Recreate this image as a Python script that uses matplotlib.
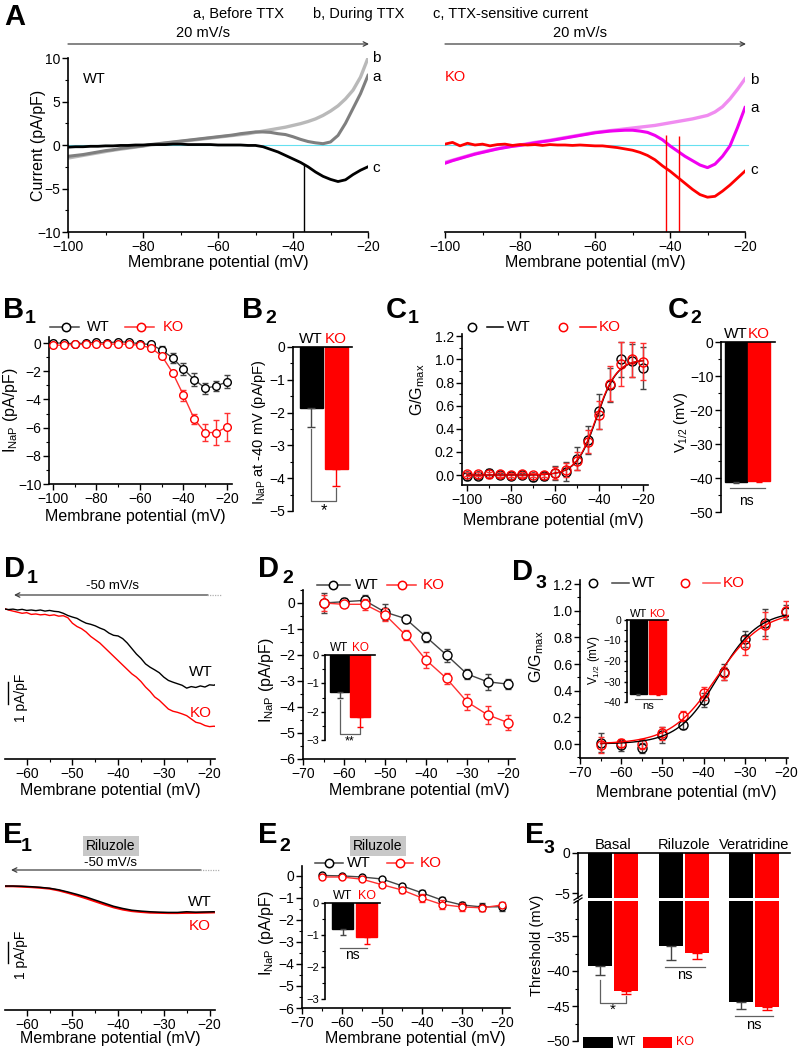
import numpy as np
import matplotlib
matplotlib.use('Agg')
import matplotlib.pyplot as plt
from matplotlib.lines import Line2D
from matplotlib.patches import FancyArrowPatch, Rectangle
from matplotlib.ticker import MultipleLocator

plt.rcParams['font.family'] = ['Liberation Sans', 'DejaVu Sans']
plt.rcParams['mathtext.fontset'] = 'custom'
plt.rcParams['mathtext.rm'] = 'Liberation Sans'
plt.rcParams['mathtext.it'] = 'Liberation Sans:italic'
plt.rcParams['mathtext.bf'] = 'Liberation Sans:bold'
plt.rcParams['axes.linewidth'] = 1.2

# ---------------- DATA ----------------
# Panel A: ramp currents (pA/pF) sampled every 2 mV from -100 to -20 mV
a_v = list(range(-100, -19, 2))
wt_b = [-1.5, -1.35, -1.2, -1.05, -0.9, -0.75, -0.6, -0.48, -0.36, -0.24, -0.12, 0.0, 0.1, 0.2, 0.3, 0.4,
        0.5, 0.6, 0.7, 0.8, 0.9, 1.0, 1.1, 1.2, 1.3, 1.45, 1.6, 1.75, 1.9, 2.05, 2.25, 2.45, 2.7, 3.0,
        3.4, 3.9, 4.5, 5.3, 6.3, 7.8, 10.0]
wt_a = [-1.3, -1.2, -1.1, -0.95, -0.8, -0.65, -0.55, -0.4, -0.3, -0.2, -0.1, 0.05, 0.15, 0.25, 0.35, 0.45,
        0.55, 0.65, 0.75, 0.85, 0.95, 1.05, 1.15, 1.3, 1.4, 1.5, 1.5, 1.45, 1.3, 1.2, 0.95, 0.65, 0.4, 0.25,
        0.15, 0.35, 1.1, 2.5, 4.2, 5.9, 8.0]
wt_c = [-0.25, -0.2, -0.2, -0.15, -0.15, -0.1, -0.1, -0.05, -0.05, 0.0, 0.0, 0.05, 0.05, 0.05, 0.1, 0.1,
        0.05, 0.05, 0.05, 0.05, 0.0, 0.0, 0.0, 0.0, -0.05, -0.05, -0.2, -0.5, -0.8, -1.2, -1.6, -2.0, -2.5,
        -3.1, -3.6, -3.95, -4.2, -4.0, -3.4, -2.9, -2.5]
ko_b = [-2.0, -1.75, -1.5, -1.25, -1.0, -0.8, -0.6, -0.42, -0.25, -0.12, 0.0, 0.15, 0.3, 0.42, 0.55, 0.7,
        0.85, 1.0, 1.15, 1.3, 1.45, 1.55, 1.65, 1.75, 1.85, 1.95, 2.05, 2.15, 2.25, 2.4, 2.55, 2.7, 2.85,
        3.0, 3.2, 3.4, 3.8, 4.4, 5.3, 6.4, 7.6]
ko_a = [-2.1, -1.8, -1.55, -1.3, -1.05, -0.85, -0.65, -0.45, -0.3, -0.15, -0.05, 0.1, 0.25, 0.38, 0.5, 0.65,
        0.8, 0.95, 1.1, 1.25, 1.4, 1.5, 1.6, 1.65, 1.7, 1.7, 1.6, 1.45, 1.1, 0.6, -0.1, -0.7, -1.3, -1.8,
        -2.3, -2.6, -2.2, -1.3, -0.1, 2.0, 4.3]
ko_c = [0.1, 0.3, -0.1, 0.2, 0.0, 0.1, -0.1, 0.05, 0.1, -0.05, 0.05, 0.0, 0.05, -0.05, 0.05, 0.0,
        0.0, -0.05, 0.0, -0.05, -0.1, -0.1, -0.2, -0.3, -0.45, -0.6, -0.85, -1.2, -1.7, -2.4, -3.0, -3.7,
        -4.4, -5.1, -5.7, -6.0, -5.9, -5.3, -4.6, -3.8, -3.0]
# artifacts: (voltage, top, bottom)
wt_artifacts = [(-37.2, -2.2, -10.0)]
ko_artifacts = [(-41.0, 1.2, -10.0), (-37.6, 1.0, -10.0)]

# Panel B1: I-V of INaP
b1_v = [-100, -95, -90, -85, -80, -75, -70, -65, -60, -55, -50, -45, -40, -35, -30, -25, -20]
b1_wt = [0.0, 0.0, -0.05, 0.0, 0.05, 0.0, 0.1, 0.05, -0.05, -0.1, -0.5, -1.05, -1.85, -2.6, -3.2, -3.05, -2.75]
b1_wt_err = [0.1, 0.1, 0.15, 0.1, 0.1, 0.1, 0.1, 0.1, 0.15, 0.2, 0.3, 0.35, 0.45, 0.45, 0.4, 0.35, 0.45]
b1_ko = [-0.15, -0.15, -0.1, -0.1, -0.05, -0.1, -0.05, -0.1, -0.15, -0.35, -0.9, -2.1, -3.7, -5.4, -6.35, -6.35, -5.95]
b1_ko_err = [0.1, 0.05, 0.05, 0.05, 0.05, 0.05, 0.05, 0.05, 0.1, 0.1, 0.1, 0.12, 0.4, 0.35, 0.6, 0.9, 1.0]

# Panel B2: INaP at -40 mV
b2_groups = ['WT', 'KO']
b2_mean = [-1.87, -3.73]
b2_err = [0.56, 0.51]

# Panel C1: activation (G/Gmax)
c1_v = b1_v
c1_wt = [-0.01, -0.005, 0.015, 0.0, -0.01, 0.0, -0.02, -0.01, 0.02, 0.03, 0.14, 0.3, 0.55, 0.78, 1.0, 0.99, 0.925]
c1_wt_err = [0.03, 0.03, 0.04, 0.02, 0.02, 0.02, 0.03, 0.03, 0.06, 0.08, 0.1, 0.12, 0.15, 0.15, 0.15, 0.14, 0.18]
c1_ko = [0.01, 0.01, 0.005, 0.005, 0.0, 0.005, 0.0, 0.0, 0.02, 0.045, 0.12, 0.29, 0.52, 0.79, 0.96, 1.0, 0.98]
c1_ko_err = [0.02, 0.02, 0.02, 0.02, 0.02, 0.02, 0.02, 0.02, 0.05, 0.06, 0.08, 0.1, 0.12, 0.15, 0.19, 0.15, 0.16]
c1_fit_vhalf = [-41.0, -41.2]
c1_fit_k = [4.6, 4.6]

# Panel C2: V1/2
c2_mean = [-41.3, -41.0]
c2_err = [0.3, 0.3]

# Panel D1: ramp (-50 mV/s) traces, 1 mV steps from -65 to -18 mV
d1_v = list(range(-65, -17))
d1_wt = [0.05, 0.02, 0.04, 0.0, 0.03, -0.02, 0.0, -0.03, 0.0, -0.05, -0.02, -0.06, -0.08, -0.15, -0.25,
         -0.32, -0.38, -0.5, -0.6, -0.65, -0.72, -0.82, -0.9, -1.05, -1.15, -1.18, -1.3, -1.5, -1.75, -2.0,
         -2.2, -2.45, -2.6, -2.72, -2.85, -3.05, -3.2, -3.28, -3.35, -3.42, -3.55, -3.48, -3.52, -3.45,
         -3.5, -3.4, -3.42, -3.3]
d1_ko = [0.08, 0.0, -0.05, -0.1, -0.15, -0.12, -0.2, -0.18, -0.22, -0.2, -0.25, -0.22, -0.28, -0.26, -0.35,
         -0.6, -0.75, -0.85, -1.0, -1.2, -1.35, -1.5, -1.7, -1.9, -2.1, -2.3, -2.5, -2.7, -2.9, -3.05, -3.25,
         -3.5, -3.7, -3.95, -4.1, -4.3, -4.5, -4.6, -4.65, -4.72, -4.8, -4.95, -5.1, -5.15, -5.25, -5.3,
         -5.28, -5.32]

# Panel D2: INaP from descending ramp
d2_v = [-65, -60, -55, -50, -45, -40, -35, -30, -25, -20]
d2_wt = [0.0, 0.05, 0.1, -0.35, -0.6, -1.3, -2.0, -2.73, -3.03, -3.12]
d2_wt_err = [0.4, 0.15, 0.2, 0.3, 0.15, 0.2, 0.25, 0.2, 0.3, 0.2]
d2_ko = [0.0, -0.05, -0.05, -0.45, -1.23, -2.19, -2.9, -3.8, -4.3, -4.6]
d2_ko_err = [0.3, 0.1, 0.2, 0.25, 0.2, 0.3, 0.2, 0.3, 0.35, 0.3]
d2_inset_mean = [-1.3, -2.18]
d2_inset_err = [0.23, 0.35]

# Panel D3: activation from descending ramp
d3_v = d2_v
d3_wt = [0.01, -0.01, -0.03, 0.07, 0.14, 0.33, 0.54, 0.79, 0.91, 0.99]
d3_wt_err = [0.07, 0.04, 0.04, 0.06, 0.03, 0.05, 0.06, 0.06, 0.1, 0.05]
d3_ko = [-0.005, 0.005, 0.0, 0.08, 0.21, 0.38, 0.53, 0.74, 0.89, 1.0]
d3_ko_err = [0.06, 0.03, 0.04, 0.05, 0.04, 0.05, 0.05, 0.07, 0.1, 0.07]
d3_fit_vhalf = [-36.5, -36.8]
d3_fit_k = [4.9, 5.6]
d3_inset_mean = [-36.3, -36.3]
d3_inset_err = [0.3, 0.3]

# Panel E1: ramp traces with riluzole, 2 mV steps from -65 to -19 mV
e1_v = list(range(-65, -18, 2))
e1_wt = [0.0, 0.0, -0.01, -0.03, -0.06, -0.1, -0.17, -0.27, -0.38, -0.5, -0.64, -0.78, -0.92, -1.02,
         -1.1, -1.14, -1.17, -1.19, -1.2, -1.2, -1.17, -1.19, -1.18, -1.17]
e1_ko = [-0.01, -0.01, -0.03, -0.05, -0.08, -0.12, -0.2, -0.31, -0.43, -0.56, -0.7, -0.84, -0.97, -1.07,
         -1.14, -1.18, -1.21, -1.22, -1.23, -1.23, -1.22, -1.22, -1.21, -1.2]

# Panel E2: INaP with riluzole
e2_v = d2_v
e2_wt = [0.02, 0.0, -0.05, -0.14, -0.45, -0.77, -1.1, -1.32, -1.41, -1.4]
e2_wt_err = [0.05, 0.05, 0.05, 0.05, 0.1, 0.15, 0.15, 0.15, 0.2, 0.2]
e2_ko = [-0.05, -0.05, -0.15, -0.4, -0.64, -1.0, -1.3, -1.41, -1.45, -1.32]
e2_ko_err = [0.05, 0.05, 0.05, 0.1, 0.15, 0.2, 0.2, 0.2, 0.15, 0.1]
e2_inset_mean = [-0.82, -1.05]
e2_inset_err = [0.18, 0.23]

# Panel E3: AP threshold
e3_conditions = ['Basal', 'Riluzole', 'Veratridine']
e3_wt = [-39.3, -36.4, -44.4]
e3_wt_err = [1.2, 2.0, 1.0]
e3_ko = [-42.9, -37.4, -45.1]
e3_ko_err = [0.4, 0.9, 0.4]

# ---------------- LAYOUT HELPERS ----------------
W, H = 799, 1050
fig = plt.figure(figsize=(W / 100, H / 100), dpi=100)
fig.patch.set_facecolor('white')

BLACK = 'black'
RED = '#ff0000'
GRAYLINE = '#454545'


def axbox(x0, y0, x1, y1):
    ax = fig.add_axes([x0 / W, 1 - y1 / H, (x1 - x0) / W, (y1 - y0) / H])
    ax.patch.set_alpha(0)
    return ax


def ftext(x, y, s, **kw):
    kw.setdefault('ha', 'center')
    kw.setdefault('va', 'center')
    return fig.text(x / W, 1 - y / H, s, **kw)


def fline(xs, ys, **kw):
    ln = Line2D([x / W for x in xs], [1 - y / H for y in ys], transform=fig.transFigure, **kw)
    fig.add_artist(ln)
    return ln


def farrow(x_from, x_to, y, color='#404040'):
    fig.add_artist(FancyArrowPatch((x_from / W, 1 - y / H), (x_to / W, 1 - y / H),
                                   transform=fig.transFigure, arrowstyle='->', mutation_scale=8,
                                   lw=0.9, color=color, shrinkA=0, shrinkB=0))


def style(ax, left=True, bottom=True, top=False, right=False, size=10):
    for s, v in zip(['left', 'bottom', 'top', 'right'], [left, bottom, top, right]):
        ax.spines[s].set_visible(v)
    ax.tick_params(which='major', direction='out', length=4, width=1.0, labelsize=size, pad=1.5)
    ax.tick_params(which='minor', direction='out', length=2.2, width=0.8)


def plabel(x, y, main, sub=None, dx=22, dy=5):
    ftext(x, y, main, ha='left', va='baseline', fontsize=21, fontweight='bold')
    if sub is not None:
        ftext(x + dx, y + dy, sub, ha='left', va='baseline', fontsize=14, fontweight='bold')


def legend_item(x0, x1, xm, y, color, mcolor, label, tx, lcolor, marker_only_left=False, fs=11):
    if marker_only_left:
        fline([xm], [y], color=mcolor, marker='o', ms=6, mfc='none', mew=1.1, lw=0)
        fline([x0, x1], [y, y], color=color, lw=1.1)
    else:
        fline([x0, x1], [y, y], color=color, lw=1.1)
        fline([xm], [y], color=mcolor, marker='o', ms=6, mfc='white', mew=1.1, lw=0)
    ftext(tx, y, label, ha='left', va='center', fontsize=fs, color=lcolor)


def bar_pair(ax, means, errs, width, ecolors=(GRAYLINE, RED), capsize=3):
    cols = [BLACK, RED]
    for i, (m, e) in enumerate(zip(means, errs)):
        ax.bar(i, m, width=width, color=cols[i], edgecolor=cols[i], zorder=2)
        ax.errorbar(i, m, yerr=[[e], [0]], fmt='none', ecolor=ecolors[i], elinewidth=1.0,
                    capsize=capsize, capthick=1.0, zorder=3)


def bar_axes_style(ax, size):
    style(ax, left=True, bottom=False, top=True, size=size)
    ax.set_xticks([])
    ax.spines['top'].set_linewidth(1.2)


def iv_plot(ax, v, wt, wte, ko, koe, ms=6, cap=2.5, lw=1.0):
    ax.errorbar(v, wt, yerr=wte, color=GRAYLINE, ecolor=GRAYLINE, lw=lw, elinewidth=1.0, capsize=cap,
                marker='o', ms=ms, mfc='white', mec=BLACK, mew=1.0, zorder=3)
    ax.errorbar(v, ko, yerr=koe, color='#ff3030', ecolor='#ff3030', lw=lw, elinewidth=1.0, capsize=cap,
                marker='o', ms=ms, mfc='white', mec=RED, mew=1.0, zorder=4)


# ================= PANEL A =================
plabel(4, 25, 'A')
ftext(193, 14, 'a, Before TTX', ha='left', fontsize=10.5)
ftext(313, 14, 'b, During TTX', ha='left', fontsize=10.5)
ftext(433, 14, 'c, TTX-sensitive current', ha='left', fontsize=10.5)

fline([68, 748], [145, 145], color='#66e0f0', lw=0.8, zorder=-1)

axA1 = axbox(68, 58, 368, 232)
style(axA1)
axA1.set_xlim(-100, -20)
axA1.set_ylim(-10, 10)
axA1.xaxis.set_major_locator(MultipleLocator(20))
axA1.xaxis.set_minor_locator(MultipleLocator(10))
axA1.yaxis.set_major_locator(MultipleLocator(5))
axA1.yaxis.set_minor_locator(MultipleLocator(2.5))
axA1.plot(a_v, wt_b, color='#b9b9b9', lw=2.4)
axA1.plot(a_v, wt_a, color='#7f7f7f', lw=2.2)
axA1.plot(a_v, wt_c, color=BLACK, lw=2.0)
for v0, top, bot in wt_artifacts:
    axA1.vlines(v0, bot, top, color=BLACK, lw=1.0)
axA1.text(-96, 7.6, 'WT', fontsize=10.5, ha='left', va='center')
ftext(218, 263, 'Membrane potential (mV)', fontsize=11.5)
ftext(38, 145, 'Current (pA/pF)', fontsize=11.5, rotation=90)
ftext(372, 58, 'b', ha='left', fontsize=11)
ftext(372, 77, 'a', ha='left', fontsize=11)
ftext(372, 168, 'c', ha='left', fontsize=11)
farrow(68, 369, 44)
ftext(203, 33, '20 mV/s', fontsize=10.5)

axA2 = axbox(445, 58, 745, 232)
style(axA2, left=False)
axA2.set_xlim(-100, -20)
axA2.set_ylim(-10, 10)
axA2.set_yticks([])
axA2.xaxis.set_major_locator(MultipleLocator(20))
axA2.xaxis.set_minor_locator(MultipleLocator(10))
axA2.plot(a_v, ko_b, color='#f08cf0', lw=2.4)
axA2.plot(a_v, ko_a, color='#f000f0', lw=2.2)
axA2.plot(a_v, ko_c, color=RED, lw=2.0)
for v0, top, bot in ko_artifacts:
    axA2.vlines(v0, bot, top, color=RED, lw=1.0)
axA2.text(-100, 7.8, 'KO', fontsize=10.5, ha='left', va='center', color=RED)
ftext(595, 263, 'Membrane potential (mV)', fontsize=11.5)
ftext(750, 80, 'b', ha='left', fontsize=11)
ftext(750, 108, 'a', ha='left', fontsize=11)
ftext(750, 170, 'c', ha='left', fontsize=11)
farrow(445, 746, 44)
ftext(580, 33, '20 mV/s', fontsize=10.5)

# ================= PANEL B1 =================
plabel(3, 318, 'B', '1', dx=22)
axB1 = axbox(49, 337, 232, 484)
style(axB1)
axB1.set_xlim(-101.8, -17.7)
axB1.set_ylim(-10, 0.43)
axB1.xaxis.set_major_locator(MultipleLocator(20))
axB1.xaxis.set_minor_locator(MultipleLocator(10))
axB1.yaxis.set_major_locator(MultipleLocator(2))
axB1.yaxis.set_minor_locator(MultipleLocator(1))
iv_plot(axB1, b1_v, b1_wt, b1_wt_err, b1_ko, b1_ko_err, ms=5.5, cap=2.5)
ftext(135, 517, 'Membrane potential (mV)', fontsize=11.5)
ftext(10, 410, r'I$_{\mathrm{NaP}}$ (pA/pF)', fontsize=11.5, rotation=90)
legend_item(50, 79, 66, 327, GRAYLINE, BLACK, 'WT', 87, BLACK, fs=10.5)
legend_item(125, 154, 141, 327, '#ff3030', RED, 'KO', 163, RED, fs=10.5)

# ================= PANEL B2 =================
plabel(242, 318, 'B', '2', dx=23)
axB2 = axbox(293, 347, 352, 511)
bar_axes_style(axB2, 10)
axB2.set_xlim(-0.72, 1.64)
axB2.set_ylim(-5, 0)
axB2.yaxis.set_major_locator(MultipleLocator(1))
axB2.yaxis.set_minor_locator(MultipleLocator(0.5))
bar_pair(axB2, b2_mean, b2_err, 0.92)
for i, (g, c) in enumerate(zip(b2_groups, [BLACK, RED])):
    axB2.annotate(g, xy=(i, 0), xytext=(0, 1), textcoords='offset points', ha='center', va='bottom',
                  fontsize=11, color=c, annotation_clip=False)
axB2.plot([0, 0, 1, 1], [-2.5, -4.69, -4.69, -4.3], color='#606060', lw=0.9, clip_on=False)
axB2.text(0.5, -4.98, '*', ha='center', va='center', fontsize=12)
ftext(259, 432, r'I$_{\mathrm{NaP}}$ at -40 mV (pA/pF)', fontsize=10.5, rotation=90)

# ================= PANEL C1 =================
plabel(386, 318, 'C', '1', dx=22)
axC1 = axbox(462, 334, 648, 485)
style(axC1)
axC1.set_xlim(-102.3, -17.7)
axC1.set_ylim(-0.086, 1.22)
axC1.xaxis.set_major_locator(MultipleLocator(20))
axC1.xaxis.set_minor_locator(MultipleLocator(10))
axC1.yaxis.set_major_locator(MultipleLocator(0.2))
axC1.yaxis.set_minor_locator(MultipleLocator(0.1))
axC1.yaxis.set_major_formatter(matplotlib.ticker.FormatStrFormatter('%.1f'))
vf = np.linspace(-100, -20, 300)
axC1.errorbar(c1_v, c1_wt, yerr=c1_wt_err, fmt='o', ms=6.5, mfc='none', mec=BLACK, mew=1.0,
              ecolor=GRAYLINE, elinewidth=1.0, capsize=2.5, zorder=3)
axC1.errorbar(c1_v, c1_ko, yerr=c1_ko_err, fmt='o', ms=6.5, mfc='none', mec=RED, mew=1.0,
              ecolor='#ff3030', elinewidth=1.0, capsize=2.5, zorder=4)
for vh, k, col in zip(c1_fit_vhalf, c1_fit_k, [BLACK, RED]):
    axC1.plot(vf, 1 / (1 + np.exp((vh - vf) / k)), color=col, lw=1.0, zorder=5)
ftext(553, 520, 'Membrane potential (mV)', fontsize=11.5)
ftext(418, 390, r'G/G$_{\mathrm{max}}$', fontsize=11.5, rotation=90)
legend_item(487, 503, 472, 327, BLACK, BLACK, 'WT', 507, BLACK, marker_only_left=True, fs=11)
legend_item(580, 596, 563, 327, RED, RED, 'KO', 599, RED, marker_only_left=True, fs=11)

# ================= PANEL C2 =================
plabel(668, 318, 'C', '2', dx=22)
axC2 = axbox(721, 342, 775, 512)
bar_axes_style(axC2, 10)
axC2.set_xlim(-0.65, 1.7)
axC2.set_ylim(-50, 0)
axC2.yaxis.set_major_locator(MultipleLocator(10))
axC2.yaxis.set_minor_locator(MultipleLocator(5))
bar_pair(axC2, c2_mean, c2_err, 0.96, capsize=2)
for i, (g, c) in enumerate(zip(b2_groups, [BLACK, RED])):
    axC2.annotate(g, xy=(i, 0), xytext=(0, 1), textcoords='offset points', ha='center', va='bottom',
                  fontsize=11, color=c, annotation_clip=False)
axC2.plot([-0.26, 1.26], [-43.0, -43.0], color='#606060', lw=0.9)
axC2.text(0.45, -46.8, 'ns', ha='center', va='center', fontsize=10)
ftext(681, 422, r'V$_{1/2}$ (mV)', fontsize=10.5, rotation=90)

# ================= PANEL D1 =================
plabel(4, 577, 'D', '1', dx=23, dy=6)
axD1 = axbox(5, 575, 215, 759)
style(axD1, left=False)
axD1.set_xlim(-64.75, -18.8)
axD1.set_ylim(-6.77, 1.59)
axD1.set_yticks([])
axD1.xaxis.set_major_locator(MultipleLocator(10))
axD1.xaxis.set_minor_locator(MultipleLocator(5))
axD1.plot(d1_v, d1_ko, color=RED, lw=1.0)
axD1.plot(d1_v, d1_wt, color=BLACK, lw=1.0)
fline([207, 222], [595, 595], color='#b0b0b0', lw=0.9, ls=(0, (1, 1)))
farrow(208, 14, 595)
ftext(112, 586, '-50 mV/s', fontsize=9.5)
fline([8, 8], [682, 704], color=BLACK, lw=1.0)
ftext(21, 698, '1 pA/pF', fontsize=10, rotation=90)
ftext(201, 672, 'WT', fontsize=11)
ftext(201, 713, 'KO', fontsize=11, color=RED)
ftext(110, 790, 'Membrane potential (mV)', fontsize=11.5)

# ================= PANEL D2 =================
plabel(258, 577, 'D', '2', dx=24, dy=6)
axD2 = axbox(303, 590, 515, 759)
style(axD2)
axD2.set_xlim(-70, -18.3)
axD2.set_ylim(-6, 0.5)
axD2.xaxis.set_major_locator(MultipleLocator(10))
axD2.xaxis.set_minor_locator(MultipleLocator(5))
axD2.yaxis.set_major_locator(MultipleLocator(1))
axD2.yaxis.set_minor_locator(MultipleLocator(0.5))
iv_plot(axD2, d2_v, d2_wt, d2_wt_err, d2_ko, d2_ko_err, ms=6.5, cap=2.5)
ftext(419, 790, 'Membrane potential (mV)', fontsize=11.5)
ftext(267, 680, r'I$_{\mathrm{NaP}}$ (pA/pF)', fontsize=11.5, rotation=90)
legend_item(317, 350, 333, 585, GRAYLINE, BLACK, 'WT', 355, BLACK, fs=11)
legend_item(387, 416, 402, 585, '#ff3030', RED, 'KO', 423, RED, fs=11)

axD2i = axbox(325, 655, 375, 740)
bar_axes_style(axD2i, 8)
axD2i.tick_params(length=3)
axD2i.set_xlim(-0.71, 1.73)
axD2i.set_ylim(-3, 0)
axD2i.yaxis.set_major_locator(MultipleLocator(1))
axD2i.yaxis.set_minor_locator(MultipleLocator(0.5))
bar_pair(axD2i, d2_inset_mean, d2_inset_err, 0.95, capsize=2.5)
for i, (g, c) in enumerate(zip(b2_groups, [BLACK, RED])):
    axD2i.annotate(g, xy=(i, 0), xytext=(0, 0.5), textcoords='offset points', ha='center', va='bottom',
                   fontsize=8.5, color=c, annotation_clip=False)
axD2i.plot([0, 0, 1, 1], [-1.6, -2.79, -2.79, -2.56], color='#606060', lw=0.9, clip_on=False)
axD2i.text(0.5, -3.05, '**', ha='center', va='center', fontsize=9)

# ================= PANEL D3 =================
plabel(512, 580, 'D', '3', dx=24, dy=8)
axD3 = axbox(580, 580, 788, 758)
style(axD3)
axD3.set_xlim(-70, -19.5)
axD3.set_ylim(-0.105, 1.23)
axD3.xaxis.set_major_locator(MultipleLocator(10))
axD3.xaxis.set_minor_locator(MultipleLocator(5))
axD3.yaxis.set_major_locator(MultipleLocator(0.2))
axD3.yaxis.set_minor_locator(MultipleLocator(0.1))
axD3.yaxis.set_major_formatter(matplotlib.ticker.FormatStrFormatter('%.1f'))
axD3.errorbar(d3_v, d3_wt, yerr=d3_wt_err, fmt='o', ms=6.5, mfc='none', mec=BLACK, mew=1.0,
              ecolor=GRAYLINE, elinewidth=1.0, capsize=2.5, zorder=3)
axD3.errorbar(d3_v, d3_ko, yerr=d3_ko_err, fmt='o', ms=6.5, mfc='none', mec=RED, mew=1.0,
              ecolor='#ff3030', elinewidth=1.0, capsize=2.5, zorder=4)
vf3 = np.linspace(-65, -20, 300)
for vh, k, col in zip(d3_fit_vhalf, d3_fit_k, [BLACK, RED]):
    axD3.plot(vf3, 1 / (1 + np.exp((vh - vf3) / k)), color=col, lw=1.0, zorder=5)
ftext(686, 792, 'Membrane potential (mV)', fontsize=11.5)
ftext(537, 657, r'G/G$_{\mathrm{max}}$', fontsize=11.5, rotation=90)
legend_item(612, 629, 593, 583, GRAYLINE, BLACK, 'WT', 632, BLACK, marker_only_left=True, fs=11)
legend_item(703, 720, 685, 583, '#ff5050', RED, 'KO', 723, RED, marker_only_left=True, fs=11)

axD3i = axbox(627, 620, 668, 702)
bar_axes_style(axD3i, 7.5)
axD3i.tick_params(length=2.5)
axD3i.set_xlim(-0.6, 1.55)
axD3i.set_ylim(-40, 0)
axD3i.yaxis.set_major_locator(MultipleLocator(10))
axD3i.yaxis.set_minor_locator(MultipleLocator(5))
bar_pair(axD3i, d3_inset_mean, d3_inset_err, 0.9, capsize=1.5)
for i, (g, c) in enumerate(zip(b2_groups, [BLACK, RED])):
    axD3i.annotate(g, xy=(i, 0), xytext=(0, 0.5), textcoords='offset points', ha='center', va='bottom',
                   fontsize=8, color=c, annotation_clip=False)
axD3i.plot([-0.18, 1.24], [-38.4, -38.4], color='#606060', lw=0.8, clip_on=False)
axD3i.text(0.5, -41.8, 'ns', ha='center', va='center', fontsize=8)
ftext(594, 660, r'V$_{1/2}$ (mV)', fontsize=8.5, rotation=90)

# ================= PANEL E1 =================
plabel(3, 843, 'E', '1', dx=18, dy=8)
axE1 = axbox(5, 830, 215, 1010)
style(axE1, left=False)
axE1.set_xlim(-64.75, -18.8)
axE1.set_ylim(-5.64, 2.55)
axE1.set_yticks([])
axE1.xaxis.set_major_locator(MultipleLocator(10))
axE1.xaxis.set_minor_locator(MultipleLocator(5))
axE1.plot(e1_v, e1_ko, color=RED, lw=1.5)
axE1.plot(e1_v, e1_wt, color=BLACK, lw=1.1)
ftext(111, 846, 'Riluzole', fontsize=10,
      bbox=dict(boxstyle='square,pad=0.25', facecolor='#c8c8c8', edgecolor='none'))
fline([200, 220], [870, 870], color='#b0b0b0', lw=0.9, ls=(0, (1, 1)))
farrow(201, 11, 870)
ftext(110, 863, '-50 mV/s', fontsize=9.5)
fline([8, 8], [942, 963], color=BLACK, lw=1.0)
ftext(21, 955, '1 pA/pF', fontsize=10, rotation=90)
ftext(200, 902, 'WT', fontsize=11)
ftext(200, 926, 'KO', fontsize=11, color=RED)
ftext(110, 1038, 'Membrane potential (mV)', fontsize=11.5)

# ================= PANEL E2 =================
plabel(258, 843, 'E', '2', dx=21, dy=8)
axE2 = axbox(302, 866, 510, 1008)
style(axE2)
axE2.set_xlim(-70, -18)
axE2.set_ylim(-6, 0.45)
axE2.xaxis.set_major_locator(MultipleLocator(10))
axE2.xaxis.set_minor_locator(MultipleLocator(5))
axE2.yaxis.set_major_locator(MultipleLocator(1))
axE2.yaxis.set_minor_locator(MultipleLocator(0.5))
iv_plot(axE2, e2_v, e2_wt, e2_wt_err, e2_ko, e2_ko_err, ms=5, cap=2)
ftext(378, 846, 'Riluzole', fontsize=10,
      bbox=dict(boxstyle='square,pad=0.25', facecolor='#c8c8c8', edgecolor='none'))
ftext(415, 1038, 'Membrane potential (mV)', fontsize=11.5)
ftext(267, 933, r'I$_{\mathrm{NaP}}$ (pA/pF)', fontsize=11.5, rotation=90)
legend_item(315, 343, 329, 863, GRAYLINE, BLACK, 'WT', 347, BLACK, fs=11)
legend_item(387, 413, 400, 863, '#ff3030', RED, 'KO', 420, RED, fs=11)

axE2i = axbox(325, 903, 380, 999)
bar_axes_style(axE2i, 8)
axE2i.tick_params(length=3)
axE2i.set_xlim(-0.73, 1.56)
axE2i.set_ylim(-3, 0)
axE2i.yaxis.set_major_locator(MultipleLocator(1))
axE2i.yaxis.set_minor_locator(MultipleLocator(0.5))
bar_pair(axE2i, e2_inset_mean, e2_inset_err, 0.9, capsize=2.5)
for i, (g, c) in enumerate(zip(b2_groups, [BLACK, RED])):
    axE2i.annotate(g, xy=(i, 0), xytext=(0, 0.5), textcoords='offset points', ha='center', va='bottom',
                   fontsize=9, color=c, annotation_clip=False)
axE2i.plot([-0.1, 1.02], [-1.42, -1.42], color='#606060', lw=0.9)
axE2i.text(0.4, -1.64, 'ns', ha='center', va='center', fontsize=10)

# ================= PANEL E3 =================
plabel(525, 843, 'E', '3', dx=19, dy=10)
e3_x = np.arange(len(e3_conditions))
off, bw = 0.185, 0.34
axE3t = axbox(578, 853, 790, 898)
axE3b = axbox(578, 901, 790, 1041)
for ax in (axE3t, axE3b):
    ax.set_xlim(-0.5, 2.51)
    for xi, mw, ew, mk, ek in zip(e3_x, e3_wt, e3_wt_err, e3_ko, e3_ko_err):
        ax.bar(xi - off, mw, width=bw, color=BLACK, zorder=2)
        ax.bar(xi + off, mk, width=bw, color=RED, zorder=2)
        ax.errorbar(xi - off, mw, yerr=[[ew], [0]], fmt='none', ecolor=GRAYLINE, elinewidth=1.0,
                    capsize=3.5, capthick=1.0, zorder=3)
        ax.errorbar(xi + off, mk, yerr=[[ek], [0]], fmt='none', ecolor=RED, elinewidth=1.0,
                    capsize=3.5, capthick=1.0, zorder=3)
    ax.set_xticks([])
style(axE3t, left=True, bottom=False, top=True)
style(axE3b, left=True, bottom=False, top=False)
axE3t.set_ylim(-5.6, 0)
axE3t.set_yticks([0, -5])
axE3t.yaxis.set_minor_locator(MultipleLocator(2.5))
axE3b.set_ylim(-50, -30)
axE3b.yaxis.set_major_locator(MultipleLocator(5))
axE3b.yaxis.set_minor_locator(MultipleLocator(2.5))
axE3b.set_yticks([-35, -40, -45, -50])
fline([574, 582], [900, 895], color=BLACK, lw=0.9)
fline([574, 582], [903, 898], color=BLACK, lw=0.9)
for xi, name in zip(e3_x, e3_conditions):
    axE3t.annotate(name, xy=(xi, 0), xytext=(0, 0.5), textcoords='offset points', ha='center',
                   va='bottom', fontsize=10.5, annotation_clip=False)
axE3b.plot([-off, -off, off, off], [-41.3, -44.6, -44.6, -43.6], color='#606060', lw=0.9, clip_on=False)
axE3b.text(0.0, -45.6, '*', ha='center', va='center', fontsize=11)
axE3b.plot([0.74, 1.30], [-39.4, -39.4], color='#606060', lw=0.9)
axE3b.text(1.02, -40.6, 'ns', ha='center', va='center', fontsize=10.5)
axE3b.plot([1.73, 2.27], [-46.4, -46.4], color='#606060', lw=0.9)
axE3b.text(2.0, -47.7, 'ns', ha='center', va='center', fontsize=10.5)
ftext(537, 945, 'Threshold (mV)', fontsize=10.5, rotation=90)
fig.add_artist(Rectangle((583 / W, 1 - 1048 / H), 30 / W, 11 / H, transform=fig.transFigure,
                         facecolor=BLACK, edgecolor='none'))
ftext(617, 1042, 'WT', ha='left', fontsize=9)
fig.add_artist(Rectangle((643 / W, 1 - 1048 / H), 29 / W, 11 / H, transform=fig.transFigure,
                         facecolor=RED, edgecolor='none'))
ftext(676, 1042, 'KO', ha='left', fontsize=9, color=RED)

fig.savefig('out.png', dpi=100, facecolor='white')
